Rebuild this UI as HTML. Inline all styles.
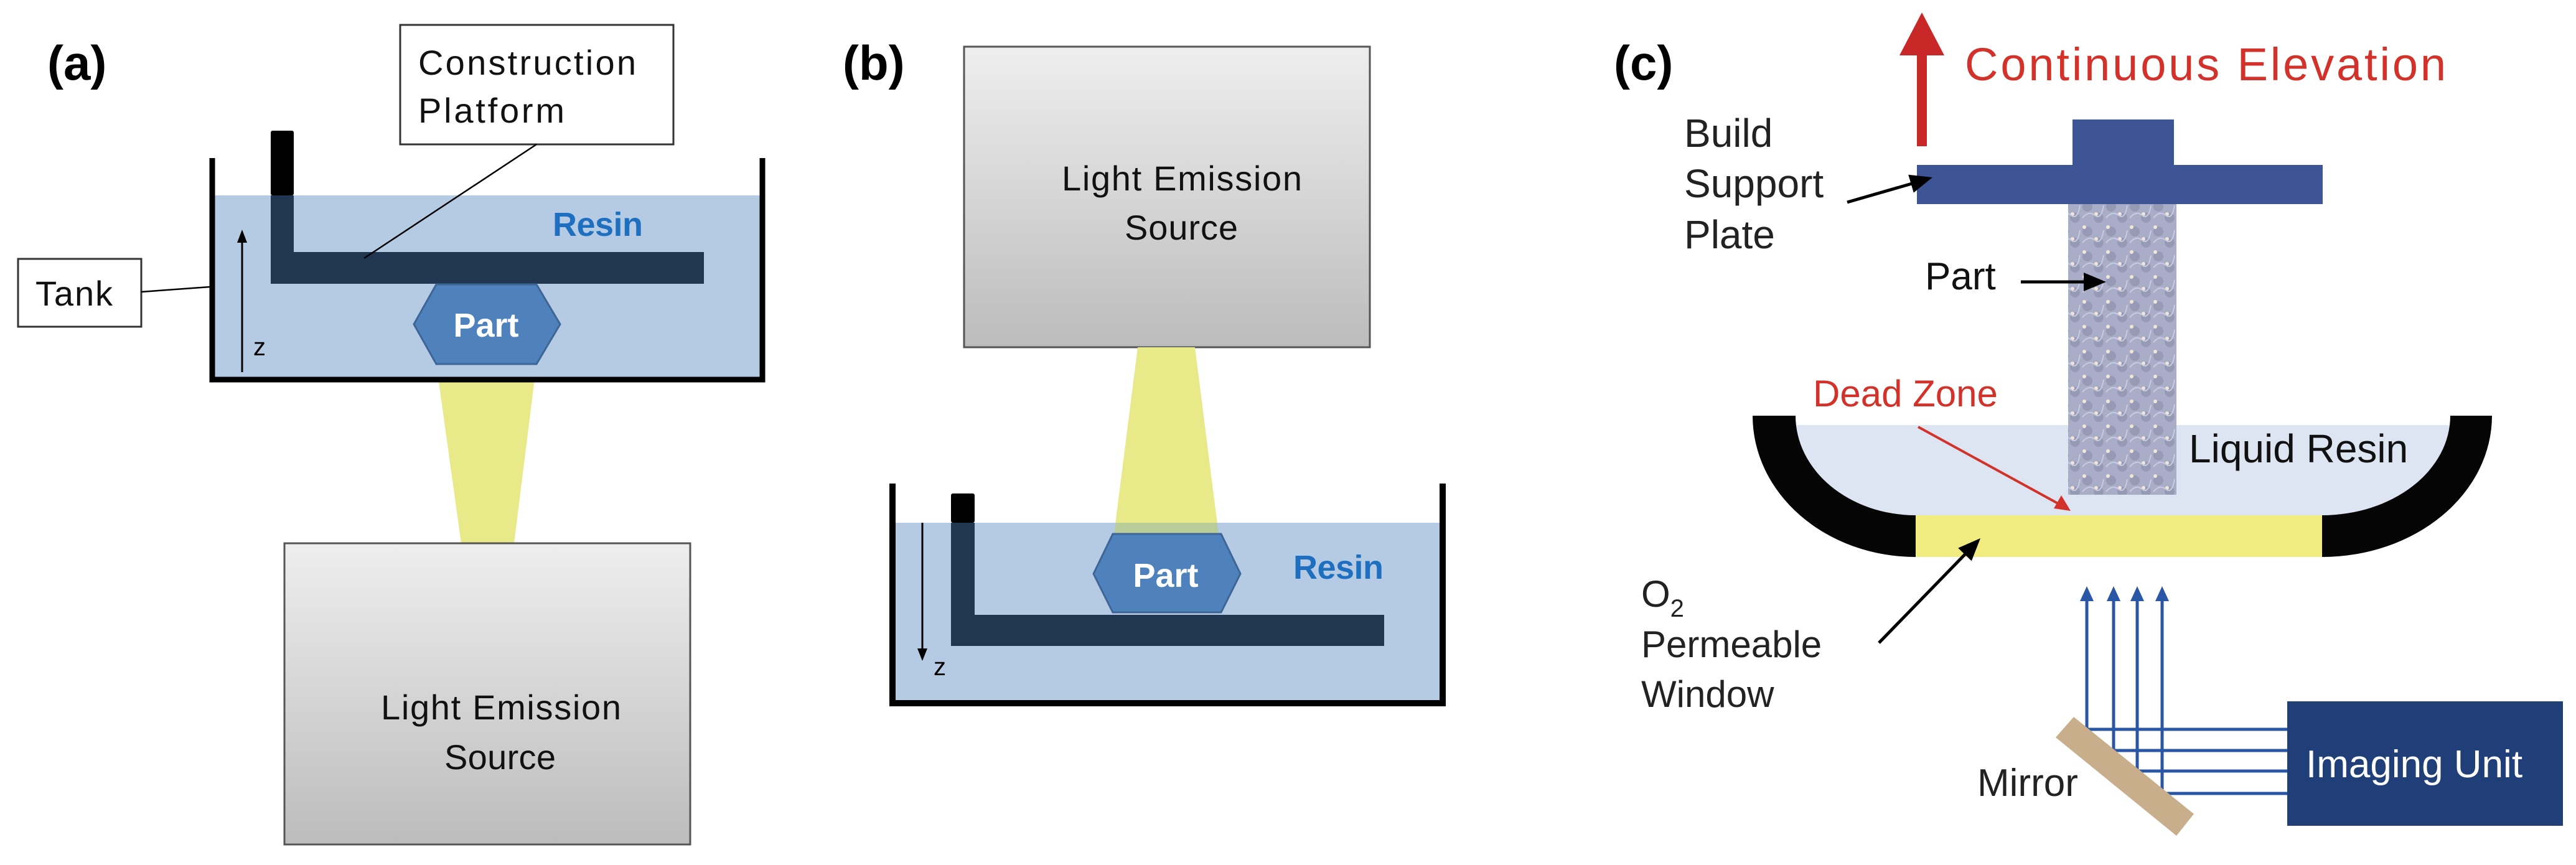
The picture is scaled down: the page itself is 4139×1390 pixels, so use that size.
<!DOCTYPE html>
<html><head><meta charset="utf-8"><style>
html,body{margin:0;padding:0;background:#fff}
svg{display:block}
text{font-family:"Liberation Sans",sans-serif}
</style></head><body>
<svg width="4139" height="1390" viewBox="0 0 4139 1390" xmlns="http://www.w3.org/2000/svg">
<defs>
<linearGradient id="lg" x1="0" y1="0" x2="0" y2="1">
<stop offset="0" stop-color="#eeeeee"/><stop offset="1" stop-color="#bcbcbc"/>
</linearGradient>
<pattern id="pt" width="38" height="40" patternUnits="userSpaceOnUse">
<rect width="38" height="40" fill="#a9adc8"/>
<circle cx="10" cy="12" r="8" fill="#8a8ea8" opacity="0.6"/>
<circle cx="28" cy="30" r="8" fill="#8a8ea8" opacity="0.6"/>
<circle cx="5" cy="5" r="3" fill="#f2e6d8"/>
<circle cx="24" cy="24" r="3" fill="#f2e6d8"/>
<path d="M2 30 q10 -12 20 -4 t14 -16" stroke="#c8cce0" stroke-width="2" fill="none"/>
</pattern>
</defs>

<!-- ===== (a) ===== -->
<text x="76" y="128" font-size="78" font-weight="bold" fill="#000">(a)</text>
<polygon points="701,585 862,585 826,873 741,873" fill="#e8ea8a"/>
<rect x="344" y="314" width="879" height="292" fill="#b5cbe3"/>
<rect x="435" y="210" width="37" height="104" fill="#000" rx="3"/>
<path d="M435 314 H472 V405 H1131 V456 H435 Z" fill="#213650"/>
<path d="M341 254 V610 H1225 V254" fill="none" stroke="#000" stroke-width="9"/>
<polygon points="665,521 701,457 862,457 900,521 862,585 701,585" fill="#4f81bd" stroke="#3d6596" stroke-width="3"/>
<text x="781" y="541" font-size="54" font-weight="bold" fill="#fff" text-anchor="middle">Part</text>
<text x="888" y="379" font-size="54" font-weight="bold" fill="#1f6fc0" textLength="145">Resin</text>
<line x1="389" y1="598" x2="389" y2="385" stroke="#000" stroke-width="3"/>
<polygon points="389,369 381,390 397,390" fill="#000"/>
<text x="407" y="571" font-size="40" fill="#000">z</text>
<rect x="643" y="40" width="439" height="192" fill="#fff" stroke="#333" stroke-width="3"/>
<text x="672" y="120" font-size="56" fill="#111" textLength="350">Construction</text>
<text x="672" y="197" font-size="56" fill="#111" textLength="235">Platform</text>
<line x1="862" y1="232" x2="585" y2="415" stroke="#000" stroke-width="2.5"/>
<rect x="29" y="416" width="198" height="109" fill="#fff" stroke="#333" stroke-width="3"/>
<text x="57" y="491" font-size="56" fill="#111" textLength="124">Tank</text>
<line x1="227" y1="469" x2="337" y2="461" stroke="#000" stroke-width="2.5"/>
<rect x="457" y="873" width="652" height="484" fill="url(#lg)" stroke="#555" stroke-width="3"/>
<text x="612" y="1156" font-size="56" fill="#111" textLength="386">Light Emission</text>
<text x="714" y="1236" font-size="56" fill="#111" textLength="179">Source</text>

<!-- ===== (b) ===== -->
<text x="1354" y="128" font-size="78" font-weight="bold" fill="#000">(b)</text>
<rect x="1549" y="75" width="652" height="483" fill="url(#lg)" stroke="#555" stroke-width="3"/>
<text x="1706" y="306" font-size="56" fill="#111" textLength="386">Light Emission</text>
<text x="1807" y="385" font-size="56" fill="#111" textLength="182">Source</text>
<polygon points="1828,558 1920,558 1958,858 1790,858" fill="#e8ea8a"/>
<rect x="1438" y="840" width="876" height="290" fill="#b5cbe3"/>
<polygon points="1793,840 1955,840 1958,858 1790,858" fill="#b8cc9a"/>
<rect x="1528" y="793" width="38" height="47" fill="#000" rx="3"/>
<path d="M1528 840 H1566 V988 H2224 V1038 H1528 Z" fill="#213650"/>
<path d="M1434 777 V1130 H2318 V777" fill="none" stroke="#000" stroke-width="10"/>
<polygon points="1757,922 1788,858 1962,858 1993,922 1962,984 1788,984" fill="#4f81bd" stroke="#3d6596" stroke-width="3"/>
<text x="1873" y="943" font-size="54" font-weight="bold" fill="#fff" text-anchor="middle">Part</text>
<text x="2078" y="930" font-size="54" font-weight="bold" fill="#1f6fc0" textLength="145">Resin</text>
<line x1="1482" y1="840" x2="1482" y2="1045" stroke="#000" stroke-width="3"/>
<polygon points="1482,1062 1474,1042 1490,1042" fill="#000"/>
<text x="1500" y="1085" font-size="40" fill="#000">z</text>

<!-- ===== (c) ===== -->
<text x="2593" y="128" font-size="78" font-weight="bold" fill="#000">(c)</text>
<rect x="3080" y="80" width="16" height="155" fill="#c82828"/>
<polygon points="3088,20 3124,89 3052,89" fill="#c82828"/>
<text x="3157" y="129" font-size="74" fill="#d2322a" textLength="773">Continuous Elevation</text>
<rect x="3330" y="192" width="163" height="80" fill="#3e5595"/>
<rect x="3080" y="265" width="652" height="63" fill="#3e5595"/>
<text font-size="64" fill="#222"><tspan x="2706" y="236">Build</tspan><tspan x="2706" y="317">Support</tspan><tspan x="2706" y="399">Plate</tspan></text>
<line x1="2968" y1="325" x2="3072" y2="295" stroke="#000" stroke-width="5"/>
<polygon points="3105,285 3074.8,309.6 3066.2,280.8" fill="#000"/>
<path d="M2885 683 H3937 A206 160 0 0 1 3731 828 H3078 A193 145 0 0 1 2885 683 Z" fill="#dde5f2"/>
<rect x="3323" y="328" width="174" height="467" fill="url(#pt)"/>
<text x="3093" y="465" font-size="62" fill="#111">Part</text>
<line x1="3247" y1="453" x2="3350" y2="453" stroke="#000" stroke-width="5"/>
<polygon points="3384,453 3348,438 3348,468" fill="#000"/>
<path d="M2816 668 A262 227 0 0 0 3078 895 L3078 828 A193 160 0 0 1 2885 668 Z" fill="#050505"/>
<path d="M4004 668 A273 227 0 0 1 3731 895 L3731 828 A206 160 0 0 0 3937 668 Z" fill="#050505"/>
<rect x="3078" y="828" width="653" height="67" fill="#f1ec80"/>
<text x="3517" y="743" font-size="64" fill="#111">Liquid Resin</text>
<text x="2913" y="653" font-size="60" fill="#d2322a">Dead Zone</text>
<line x1="3082" y1="686" x2="3312" y2="812" stroke="#d2322a" stroke-width="4"/>
<polygon points="3327,821 3300,817 3312,796" fill="#d2322a"/>
<text x="2637" y="975" font-size="60" fill="#222">O<tspan font-size="40" dy="16">2</tspan></text>
<text x="2637" y="1056" font-size="60" fill="#222">Permeable</text>
<text x="2637" y="1136" font-size="60" fill="#222">Window</text>
<line x1="3019" y1="1033" x2="3159" y2="889" stroke="#000" stroke-width="5"/>
<polygon points="3182,865 3167.8,901.4 3146.2,880.6" fill="#000"/>
<g stroke="#2a56a6" stroke-width="5" fill="none">
<path d="M3353 960 V1172 H3675"/>
<path d="M3396 960 V1206 H3675"/>
<path d="M3434 960 V1239 H3675"/>
<path d="M3474 960 V1275 H3675"/>
</g>
<g fill="#2a56a6">
<polygon points="3353,942 3342,966 3364,966"/>
<polygon points="3396,942 3385,966 3407,966"/>
<polygon points="3434,942 3423,966 3445,966"/>
<polygon points="3474,942 3463,966 3485,966"/>
</g>
<polygon points="3303,1185 3332,1152 3525,1308 3497,1343" fill="#c8ae8a"/>
<text x="3177" y="1279" font-size="62" fill="#222">Mirror</text>
<rect x="3675" y="1127" width="443" height="200" fill="#203f78"/>
<text x="3705" y="1249" font-size="62" fill="#fff">Imaging Unit</text>
</svg>
</body></html>
